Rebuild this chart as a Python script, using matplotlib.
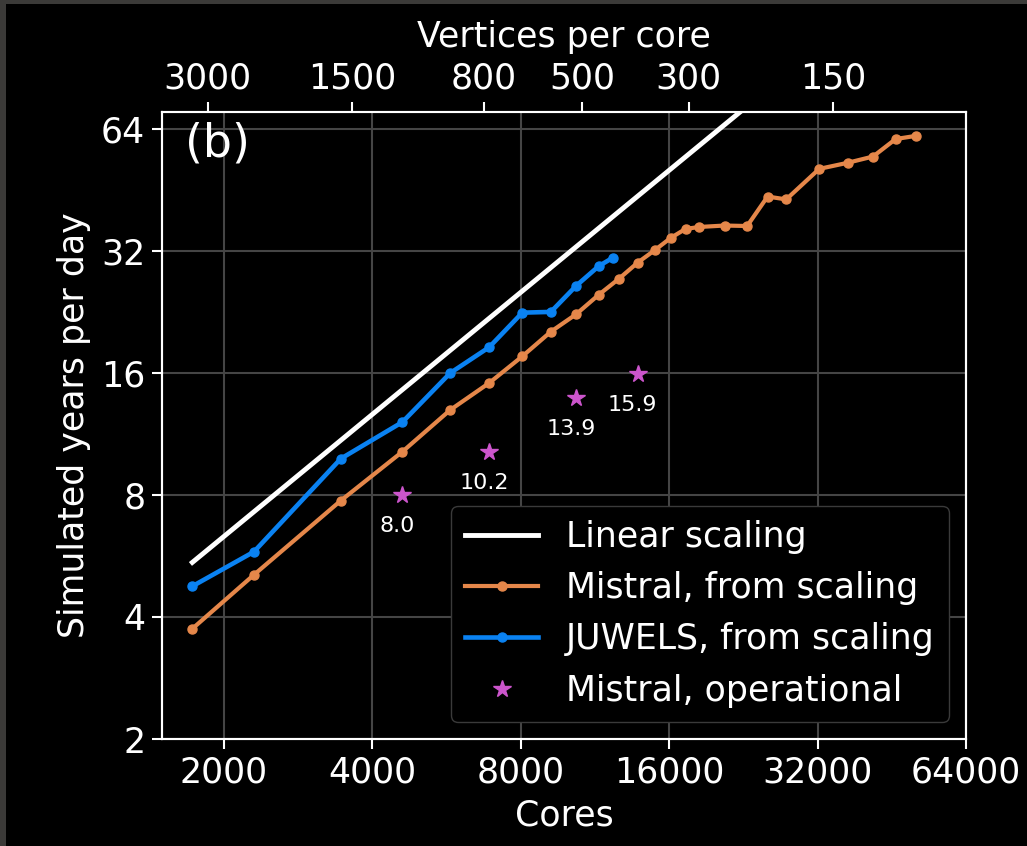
import matplotlib
matplotlib.use('Agg')
import matplotlib.pyplot as plt
from matplotlib.patches import Rectangle
from matplotlib.ticker import NullLocator

plt.style.use('dark_background')
plt.rcParams['font.family'] = ['DejaVu Sans']

# linear scaling reference (two end points)
linear_cores = [1728, 24000]
linear_ypd = [5.45, 75.7]

# Mistral, from scaling
mistral_cores = [1728, 2304, 3456, 4608, 5760, 6912, 8064, 9216, 10368, 11520,
                 12672, 13824, 14976, 16128, 17280, 18432, 20736, 23040, 25344,
                 27648, 32256, 36864, 41472, 46080, 50688]
mistral_ypd = [3.74, 5.08, 7.74, 10.22, 12.95, 15.1, 17.56, 20.2, 22.3, 24.9,
               27.3, 29.9, 32.1, 34.4, 36.2, 36.6, 36.9, 36.8, 43.5,
               42.8, 50.9, 52.7, 54.6, 60.3, 61.4]

# JUWELS, from scaling
juwels_cores = [1728, 2304, 3456, 4608, 5760, 6912, 8064, 9216, 10368, 11520, 12288]
juwels_ypd = [4.76, 5.79, 9.82, 12.09, 15.97, 18.5, 22.5, 22.6, 26.2, 29.3, 30.7]

# Mistral, operational
oper_cores = [4608, 6912, 10368, 13824]
oper_ypd = [8.0, 10.2, 13.9, 15.9]

x_ticks = [2000, 4000, 8000, 16000, 32000, 64000]
y_ticks = [2, 4, 8, 16, 32, 64]
vert_ticks = [3000, 1500, 800, 500, 300, 150]

FS = 25
c_orange = '#e5874a'
c_blue = '#0a82f2'
c_star = '#cc55cc'

fig = plt.figure(figsize=(10.27, 8.46), dpi=100)
fig.patch.set_facecolor('black')
ax = fig.add_axes([162/1027, 1-739/846, 804/1027, 627/846])
ax.set_facecolor('black')

ax.plot(linear_cores, linear_ypd, '-', color='white', lw=3.5, label='Linear scaling')
ax.plot(mistral_cores, mistral_ypd, '-o', color=c_orange, lw=3, ms=6.5,
        label='Mistral, from scaling')
ax.plot(juwels_cores, juwels_ypd, '-o', color=c_blue, lw=3.3, ms=6.5,
        label='JUWELS, from scaling')
ax.plot(oper_cores, oper_ypd, '*', color=c_star, ms=13, ls='none',
        label='Mistral, operational')
for c, v in zip(oper_cores, oper_ypd):
    ax.annotate('%.1f' % v, (c, v), xytext=(-5, -31), textcoords='offset pixels',
                ha='center', va='center', fontsize=16, color='white')

ax.set_xscale('log', base=2)
ax.set_yscale('log', base=2)
ax.set_xlim(1500, 64000)
ax.set_ylim(2, 70.3)
ax.set_xticks(x_ticks)
ax.set_xticklabels([str(t) for t in x_ticks])
ax.set_yticks(y_ticks)
ax.set_yticklabels([str(t) for t in y_ticks])
ax.xaxis.set_minor_locator(NullLocator())
ax.yaxis.set_minor_locator(NullLocator())
ax.grid(True, color='#454545', lw=1.5)
ax.tick_params(labelsize=FS, length=7, width=1.5, direction='out', pad=5)
for s in ax.spines.values():
    s.set_color('white')
    s.set_linewidth(1.5)
ax.set_xlabel('Cores', fontsize=FS, labelpad=6)
ax.set_ylabel('Simulated years per day', fontsize=FS, labelpad=7)

ax.text(0.028, 0.985, '(b)', transform=ax.transAxes, fontsize=33,
        ha='left', va='top', color='white')

leg = ax.legend(loc='lower right', fontsize=FS, numpoints=1, handlelength=2.1,
                facecolor='black', edgecolor='#3a3a3a', framealpha=1.0,
                borderaxespad=0.5)

# vertices per core on top
ax2 = ax.twiny()
ax2.set_xscale('log', base=2)
ax2.set_xlim(3733, 79.5)
ax2.set_xticks(vert_ticks)
ax2.set_xticklabels([str(t) for t in vert_ticks])
ax2.xaxis.set_minor_locator(NullLocator())
ax2.tick_params(labelsize=FS, length=7, width=1.5, direction='out', pad=5)
ax2.set_xlabel('Vertices per core', fontsize=FS, labelpad=10)
for s in ax2.spines.values():
    s.set_color('white')
    s.set_linewidth(1.5)

# screenshot frame bands
fig.add_artist(Rectangle((0, 1-4/846), 1, 4/846, transform=fig.transFigure,
                         color='#3b3a38', lw=0))
fig.add_artist(Rectangle((0, 0), 6/1027, 1, transform=fig.transFigure,
                         color='#3b3a38', lw=0))

fig.savefig('out.png', dpi=100, facecolor='black')
